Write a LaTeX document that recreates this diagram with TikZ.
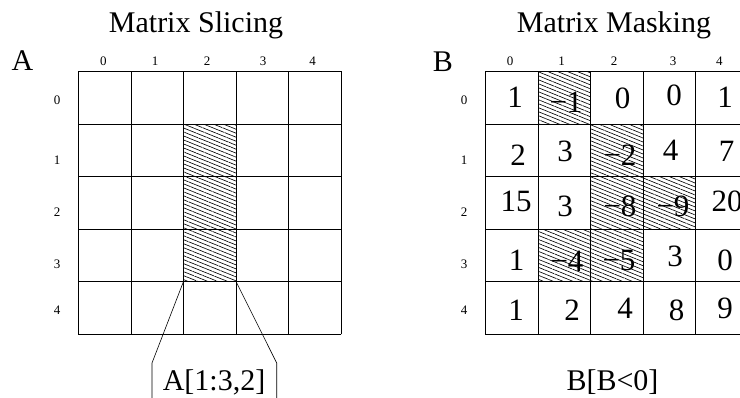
\documentclass[tikz,border=0pt]{standalone}
\usepackage{fontspec}
\setmainfont{Liberation Serif}
\usetikzlibrary{patterns.meta}
\begin{document}
\begin{tikzpicture}[x=1pt,y=-1pt,
  big/.style={font=\fontsize{30}{36}\selectfont, inner sep=0pt, anchor=base},
  num/.style={font=\fontsize{31}{36}\selectfont, inner sep=0pt, anchor=base},
  idx/.style={font=\fontsize{13}{15}\selectfont, inner sep=0pt, anchor=base},
  hatch/.style={pattern={Lines[angle=-22,distance=3.7pt,line width=0.65pt]}},
  gridline/.style={line width=0.9pt, line cap=rect}]
\useasboundingbox (0,0) rectangle (740,397);
\clip (0,0) rectangle (740,397);

% titles and labels
\node[big] (t1) at (196,32.7) {Matrix Slicing};
\node[big] (t2) at (614,32.7) {Matrix Masking};
\node[big] (la) at (22.5,70) {A};
\node[big] (lb) at (443,71) {B};

% ---- grid A ----
\fill[hatch] (183.5,124) rectangle (236,281.5);
\foreach \i in {0,...,5} {
  \draw[gridline] (78.5+52.5*\i,71.5) -- (78.5+52.5*\i,334);
  \draw[gridline] (78.5,71.5+52.5*\i) -- (341,71.5+52.5*\i);
}
\foreach \t/\x [count=\k] in {0/103.3,1/155,2/207,3/263,4/312.7}
  \node[idx] (ac\k) at (\x,65) {\t};
\foreach \t/\y [count=\k] in {0/100,1/160,2/212,3/264,4/310}
  \node[idx] (ar\k) at (57,\y+4.5) {\t};

% slice label and connectors
\coordinate (sl) at (183.5,281.5);
\coordinate (sr) at (236,281.5);
\coordinate (bl) at (152,363);
\coordinate (br) at (276.7,363);
\coordinate (bl2) at (152,400);
\coordinate (br2) at (276.7,400);
\draw[line width=0.6pt] (sl) -- (bl) -- (bl2);
\draw[line width=0.6pt] (sr) -- (br) -- (br2);
\node[big] (sa) at (214,390.7) {A[1:3,2]};

% ---- grid B ----
\foreach \c/\r in {1/0,2/1,2/2,3/2,1/3,2/3}
  \fill[hatch] (485.7+52.5*\c,71.5+52.5*\r) rectangle +(52.5,52.5);
\foreach \i in {0,...,5} {
  \draw[gridline] (485.7+52.5*\i,71.5) -- (485.7+52.5*\i,334);
  \draw[gridline] (485.7,71.5+52.5*\i) -- (748.2,71.5+52.5*\i);
}
\foreach \t/\x [count=\k] in {0/510,1/561.7,2/614,3/673,4/719.3}
  \node[idx] (bc\k) at (\x,65) {\t};
\foreach \t/\y [count=\k] in {0/100,1/160,2/212,3/264,4/310}
  \node[idx] (br\k) at (464,\y+4.5) {\t};

\foreach \t/\x/\y [count=\k] in {
  1/515/107, −1/566/112, 0/622.5/108, 0/674/105, 1/725/107,
  2/518/165, 3/565/161.5, −2/620/165, 4/670.7/160, 7/726.7/161.5,
  15/516/211.7, 3/565/216.7, −8/620/216.7, −9/673/216.7, 20/727/211.7,
  1/516.7/270, −4/567/271, −5/619/270, 3/675/266.7, 0/725/270,
  1/516/320, 2/572/320, 4/625/318, 8/676.7/320, 9/725/318}
  \node[num] (n\k) at (\x,\y) {\t};

\node[big] (sb) at (612.5,390) {B[B<0]};
\end{tikzpicture}
\end{document}
